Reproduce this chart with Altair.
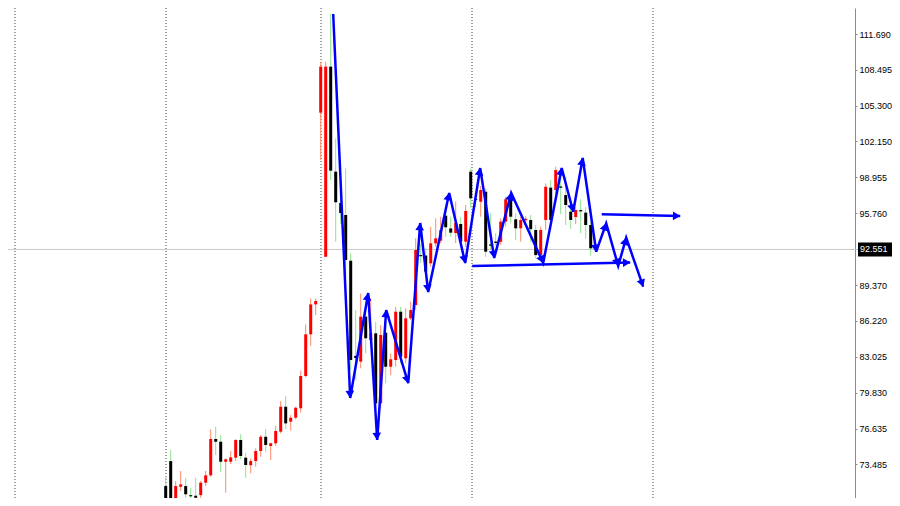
import math
import altair as alt
import pandas as pd

# ---------------- data ----------------
opens = [71.53, 73.75, 69.50, 71.47, 71.53, 70.72, 70.67, 70.73, 71.83, 72.48,
         75.71, 75.47, 73.69, 73.69, 74.05, 75.62, 74.05, 73.38, 73.75, 74.64,
         75.91, 75.09, 75.33, 76.36, 78.58, 77.25, 77.60, 78.44, 81.31, 85.01,
         87.67, 104.70, 91.90, 108.79, 99.46, 96.68, 95.61, 91.55, 83.10, 82.58,
         86.58, 84.50, 85.10, 78.88, 85.15, 82.13, 82.73, 87.02, 82.88, 86.43,
         87.61, 92.05, 92.01, 91.32, 93.09, 93.33, 95.55, 94.42, 94.01, 94.81,
         93.24, 99.46, 97.05, 96.79, 97.68, 93.00, 93.25, 93.24, 95.02, 97.10,
         95.23, 94.43, 95.15, 95.17, 94.28, 92.05, 95.17, 98.04, 97.83, 98.15,
         97.38, 95.91, 95.43, 96.05, 95.82, 94.72]
highs = [72.42, 74.73, 71.98, 72.87, 72.27, 71.38, 72.27, 71.98, 72.87, 76.57,
         76.80, 76.06, 74.00, 74.64, 75.71, 76.13, 74.49, 73.99, 74.88, 76.06,
         76.60, 75.39, 76.89, 79.09, 79.53, 77.84, 78.58, 81.78, 85.90, 88.20,
         88.20, 109.23, 109.23, 113.47, 102.42, 97.30, 99.75, 92.20, 87.17, 88.65,
         87.17, 88.20, 86.13, 85.84, 85.84, 83.32, 87.46, 87.46, 87.32, 87.91,
         93.54, 93.04, 92.65, 94.57, 95.31, 95.46, 96.05, 95.46, 96.79, 95.46,
         96.50, 99.75, 97.50, 98.19, 97.98, 95.76, 94.00, 95.31, 97.24, 97.65,
         95.76, 95.46, 95.50, 95.61, 94.72, 94.58, 98.42, 98.72, 99.90, 99.20,
         99.00, 96.35, 96.30, 97.00, 96.30, 95.02]
lows = [69.30, 69.30, 69.30, 71.09, 70.35, 69.80, 69.76, 69.99, 71.53, 72.36,
        74.29, 72.80, 70.94, 73.49, 73.75, 73.90, 72.27, 72.66, 73.25, 74.14,
        74.58, 73.84, 75.11, 76.21, 76.60, 76.45, 77.46, 78.06, 81.19, 83.99,
        86.72, 100.50, 91.90, 98.72, 93.24, 94.80, 90.13, 81.84, 80.95, 81.99,
        83.32, 84.21, 78.58, 78.44, 80.66, 81.39, 82.13, 82.43, 82.43, 86.28,
        87.17, 91.35, 90.13, 91.02, 92.79, 93.09, 93.68, 93.68, 93.12, 92.94,
        92.79, 96.20, 96.30, 95.46, 91.90, 92.60, 92.90, 92.94, 94.58, 94.87,
        93.39, 93.24, 94.90, 93.24, 91.76, 91.61, 94.28, 94.28, 97.50, 95.70,
        94.72, 94.39, 94.80, 94.00, 93.50, 92.00]
closes = [69.50, 69.50, 71.53, 71.68, 70.80, 70.62, 70.49, 71.83, 72.48, 75.71,
          75.47, 73.69, 73.91, 74.08, 75.62, 74.20, 73.40, 73.75, 74.64, 75.91,
          75.18, 75.33, 76.42, 78.58, 77.10, 77.60, 78.49, 81.31, 85.01, 87.67,
          87.97, 108.79, 108.79, 99.55, 96.74, 95.79, 91.61, 82.73, 82.90, 86.58,
          84.66, 85.10, 78.88, 84.95, 82.13, 82.79, 87.02, 83.02, 86.43, 87.17,
          92.50, 91.95, 90.58, 93.09, 93.54, 94.28, 94.52, 94.04, 94.90, 93.24,
          95.97, 97.09, 96.95, 97.83, 92.35, 92.88, 93.13, 95.02, 97.01, 95.46,
          94.43, 95.17, 95.27, 94.35, 92.05, 94.28, 98.12, 95.17, 99.60, 98.03,
          96.50, 95.17, 96.05, 95.93, 94.72, 92.65]

zigzag_idx = [33.5, 36.9, 40.5, 42.3, 44.1, 48.5, 50.9, 52.5, 56.7, 59.9, 62.9,
              65.7, 69.1, 75.5, 79.2, 81.5, 83.4, 86.1, 88.1, 90.5, 92.1, 95.5]
zigzag_price = [113.47, 79.35, 88.68, 75.62, 87.17, 80.68, 94.90, 88.77, 97.56,
                91.35, 99.78, 91.79, 97.56, 91.35, 99.78, 95.90, 100.67, 92.35,
                94.87, 91.08, 93.59, 89.24]
support_idx = [61.3, 92.9]
support_price = [91.07, 91.40]
resist_idx = [87.2, 102.9]
resist_price = [95.67, 95.52]

separators = [-30.14, 0.06, 31.06, 61.26, 97.46]
tick_values = [70.290, 73.485, 76.635, 79.830, 83.025, 86.220, 89.370, 95.760,
               98.955, 102.150, 105.300, 108.495, 111.690, 114.885]
last_price = 92.551

# ---------------- layout ----------------
W, H = 847, 490
PAD_R = 884 - W
X_DOM = [-31.54, -31.54 + W / 5.0]
Y_DOM = [70.47, 114.0]
PX_X = W / (X_DOM[1] - X_DOM[0])
PX_Y = H / (Y_DOM[1] - Y_DOM[0])

xs = alt.Scale(domain=X_DOM, nice=False, zero=False, padding=0)
ys = alt.Scale(domain=Y_DOM, nice=False, zero=False, padding=0)
Y_AXIS = alt.Axis(
    orient="right", values=tick_values, format=".3f", grid=False,
    domainColor="#8a8a8a", tickColor="#8a8a8a", tickSize=2, labelPadding=2,
    labelFont="Liberation Sans", labelFontSize=9, labelColor="#000000",
    title=None, labelFlush=False, labelOverlap=False)

candles = pd.DataFrame({
    "idx": list(range(len(opens))),
    "open": opens, "high": highs, "low": lows, "close": closes,
})
candles["dir"] = ["up" if c >= o else "down" for o, c in zip(opens, closes)]
candles["wdir"] = candles["dir"]

# lines
rows = []
for k, (i, p) in enumerate(zip(zigzag_idx, zigzag_price)):
    rows.append({"g": "zig", "o": k, "idx": i, "price": p})
for k, (i, p) in enumerate(zip(support_idx, support_price)):
    rows.append({"g": "sup", "o": k, "idx": i, "price": p})
for k, (i, p) in enumerate(zip(resist_idx, resist_price)):
    rows.append({"g": "res", "o": k, "idx": i, "price": p})
lines = pd.DataFrame(rows)

# arrowheads at the end of every segment
arr = []
def add_arrows(ii, pp):
    for a in range(1, len(ii)):
        dx = (ii[a] - ii[a - 1]) * PX_X
        dy = -(pp[a] - pp[a - 1]) * PX_Y
        L = math.hypot(dx, dy)
        ux, uy = dx / L, dy / L
        back = 3.5
        arr.append({
            "idx": ii[a] - ux * back / PX_X,
            "price": pp[a] + uy * back / PX_Y,
            "ang": math.degrees(math.atan2(dx, -dy)) % 360,
        })
add_arrows(zigzag_idx, zigzag_price)
add_arrows(support_idx, support_price)
add_arrows(resist_idx, resist_price)
arrows = pd.DataFrame(arr)

X = alt.X("idx:Q", scale=xs, axis=None)

def Y(field):
    return alt.Y(field, scale=ys, axis=Y_AXIS)

base = alt.Chart(candles)

wicks = base.mark_rule(strokeWidth=1, clip=True).encode(
    x=X, y=Y("low:Q"), y2="high:Q",
    color=alt.Color("wdir:N", scale=alt.Scale(domain=["up", "down"], range=["#FF8A6A", "#8FE08F"]), legend=None),
)

bodies = base.mark_bar(size=3, clip=True).encode(
    x=X, y=Y("open:Q"), y2="close:Q",
    color=alt.Color("dir:N", scale=alt.Scale(domain=["up", "down"], range=["#FF0000", "#000000"]), legend=None),
)

sep = alt.Chart(pd.DataFrame({"idx": separators})).mark_rule(
    strokeDash=[1, 2], color="#444444", strokeWidth=1
).encode(x=X)

price_line = alt.Chart(pd.DataFrame({"price": [last_price]})).mark_rule(
    color="#c8c8c8", strokeWidth=1
).encode(y=Y("price:Q"), x=alt.value(0), x2=alt.value(W + 3))

zig = alt.Chart(lines).mark_line(color="#0000FF", strokeWidth=2.5, clip=True).encode(
    x=X, y=Y("price:Q"), detail="g:N", order="o:Q",
)

heads = alt.Chart(arrows).mark_point(
    shape="triangle-up", filled=True, color="#0000FF", size=75, opacity=1, clip=True
).encode(
    x=X, y=Y("price:Q"), angle=alt.Angle("ang:Q", scale=None),
)

box_df = pd.DataFrame({"price": [last_price],
                       "top": [last_price + 7 / PX_Y],
                       "bot": [last_price - 7 / PX_Y],
                       "label": [f"{last_price:.3f}"]})
box = alt.Chart(box_df).mark_rect(color="#000000").encode(
    y=Y("top:Q"), y2="bot:Q",
    x=alt.value(W + 3), x2=alt.value(W + 40),
)
box_text = alt.Chart(box_df).mark_text(
    align="left", baseline="middle", color="#ffffff",
    font="Liberation Sans", fontSize=9
).encode(y=Y("price:Q"), x=alt.value(W + 5), text="label:N")

chart = alt.layer(
    sep, price_line, wicks, bodies, zig, heads, box, box_text
).resolve_scale(color="independent").properties(
    width=W, height=H,
    autosize=alt.AutoSizeParams(type="none"),
    padding={"left": 0, "top": 0, "right": PAD_R, "bottom": 0},
    background="#ffffff",
).configure_view(stroke=None)

chart.save("out.html", embed_options={"renderer": "svg", "actions": False})
